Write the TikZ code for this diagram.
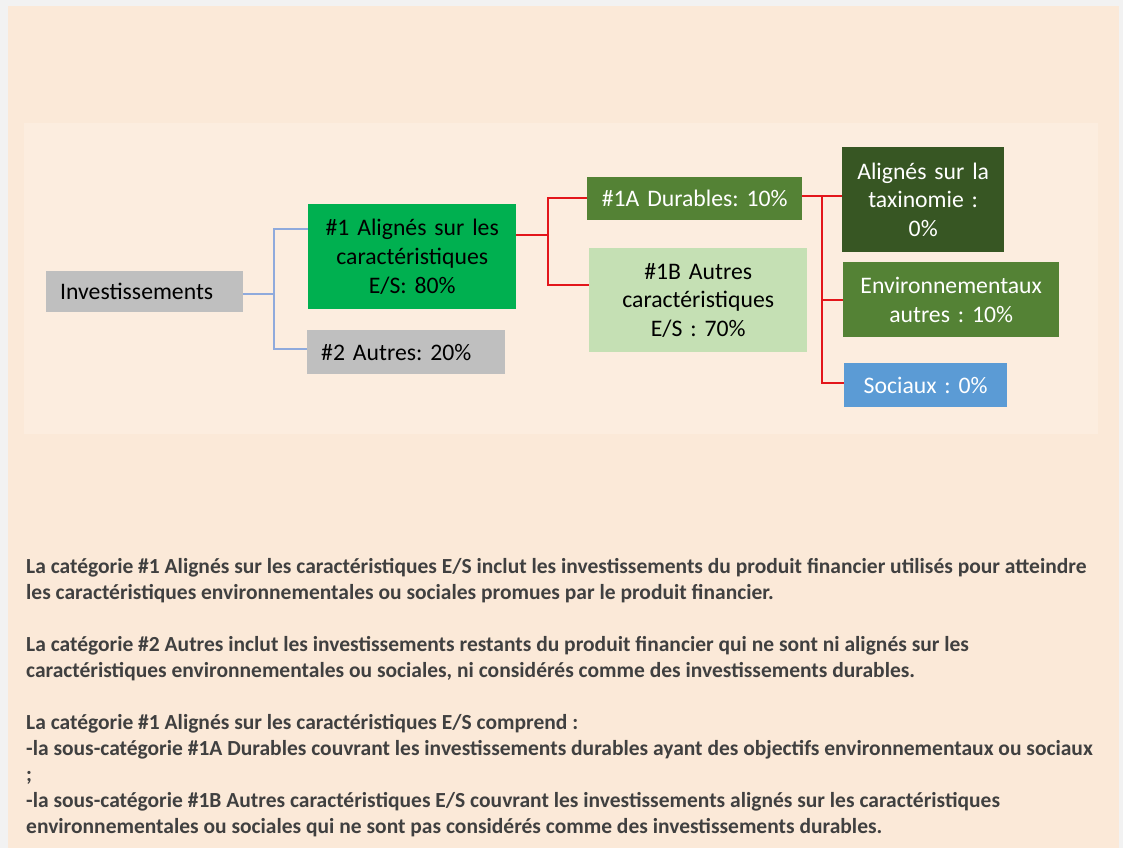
\documentclass[tikz,border=0pt]{standalone}
\usepackage{fontspec}
\setmainfont{Carlito}
\frenchspacing
\definecolor{outergray}{HTML}{F2F2F2}
\definecolor{peach}{HTML}{FBE9D8}
\definecolor{panel}{HTML}{FCEDDF}
\definecolor{boxgray}{HTML}{BFBFBF}
\definecolor{brightgreen}{HTML}{00B050}
\definecolor{midgreen}{HTML}{548235}
\definecolor{lightgreen}{HTML}{C5E0B4}
\definecolor{darkgreen}{HTML}{375623}
\definecolor{socblue}{HTML}{5B9BD5}
\definecolor{lineblue}{HTML}{8FAADC}
\definecolor{linered}{HTML}{E3161B}
\definecolor{textgray}{HTML}{404040}
\newcommand\diagfont{\fontsize{23.7}{28.7}\selectfont}
\newcommand\bodyfont{\fontsize{21.5}{26}\selectfont\bfseries}
\begin{document}
\begin{tikzpicture}[x=1pt,y=-1pt,
  box/.style={inner sep=0pt, align=center, font=\diagfont, anchor=north west},
  bodyline/.style={anchor=base west, inner sep=0pt, font=\bodyfont, text=textgray},
  blueline/.style={draw=lineblue, line width=1.1pt},
  redline/.style={draw=linered, line width=2pt}]
\useasboundingbox (0,0) rectangle (1123,848);
\fill[outergray] (0,0) rectangle (1123,848);
\fill[peach] (8,6) rectangle (1119,848);
\fill[panel] (24,123) rectangle (1098,434);
% boxes
\node[box, fill=boxgray, minimum width=197pt, minimum height=41pt, text width=169pt, inner xsep=14pt, align=left] (inv) at (46,271) {Investissements};
\node[box, fill=brightgreen, minimum width=208pt, minimum height=105pt, text width=208pt] (a1) at (308,204) {\#1 Alignés sur les\\caractéristiques\\E/S: 80\%};
\node[box, fill=boxgray, minimum width=198pt, minimum height=44pt, text width=170pt, inner xsep=14pt, align=left] (a2) at (307,330) {\#2 Autres: 20\%};
\node[box, fill=midgreen, text=white, minimum width=215pt, minimum height=43pt, text width=215pt] (b1) at (587,177) {\#1A Durables: 10\%};
\node[box, fill=lightgreen, minimum width=218pt, minimum height=104pt, text width=218pt] (b2) at (589,248) {\#1B Autres\\caractéristiques\\E/S : 70\%};
\node[box, fill=darkgreen, text=white, minimum width=162pt, minimum height=105pt, text width=162pt] (c1) at (842,147) {Alignés sur la\\taxinomie :\\0\%};
\node[box, fill=midgreen, text=white, minimum width=216pt, minimum height=75pt, text width=216pt] (c2) at (843,262) {Environnementaux\\autres : 10\%};
\node[box, fill=socblue, text=white, minimum width=163pt, minimum height=44pt, text width=163pt] (c3) at (844,363) {Sociaux : 0\%};
% junction coordinates
\coordinate (j1) at (274,294);
\coordinate (j1a) at (274,229);
\coordinate (j1b) at (274,349);
\coordinate (j2) at (548,235);
\coordinate (j2a) at (548,198);
\coordinate (j2b) at (548,285);
\coordinate (j3) at (822,196);
\coordinate (j3b) at (822,300);
\coordinate (j3c) at (822,383);
% blue connectors
\draw[blueline] (inv.east |- j1) -- (j1);
\draw[blueline] (a1.west |- j1a) -- (j1a) -- (j1b) -- (a2.west |- j1b);
% red connectors
\draw[redline] (a1.east |- j2) -- (j2);
\draw[redline] (b1.west |- j2a) -- (j2a) -- (j2b) -- (b2.west |- j2b);
\draw[redline] (b1.east |- j3) -- (c1.west |- j3);
\draw[redline] (j3) -- (j3c) -- (c3.west |- j3c);
\draw[redline] (j3b) -- (c2.west |- j3b);
% explanatory text
\node[bodyline] (t1) at (26,573) {La catégorie \#1 Alignés sur les caractéristiques E/S inclut les investissements du produit financier utilisés pour atteindre};
\node[bodyline] (t2) at (26,599) {les caractéristiques environnementales ou sociales promues par le produit financier.};
\node[bodyline] (t3) at (26,651) {La catégorie \#2 Autres inclut les investissements restants du produit financier qui ne sont ni alignés sur les};
\node[bodyline] (t4) at (26,677) {caractéristiques environnementales ou sociales, ni considérés comme des investissements durables.};
\node[bodyline] (t5) at (26,729) {La catégorie \#1 Alignés sur les caractéristiques E/S comprend :};
\node[bodyline] (t6) at (26,755) {-la sous-catégorie \#1A Durables couvrant les investissements durables ayant des objectifs environnementaux ou sociaux};
\node[bodyline] (t7) at (26,781) {;};
\node[bodyline] (t8) at (26,807) {-la sous-catégorie \#1B Autres caractéristiques E/S couvrant les investissements alignés sur les caractéristiques};
\node[bodyline] (t9) at (26,833) {environnementales ou sociales qui ne sont pas considérés comme des investissements durables.};
\end{tikzpicture}
\end{document}
